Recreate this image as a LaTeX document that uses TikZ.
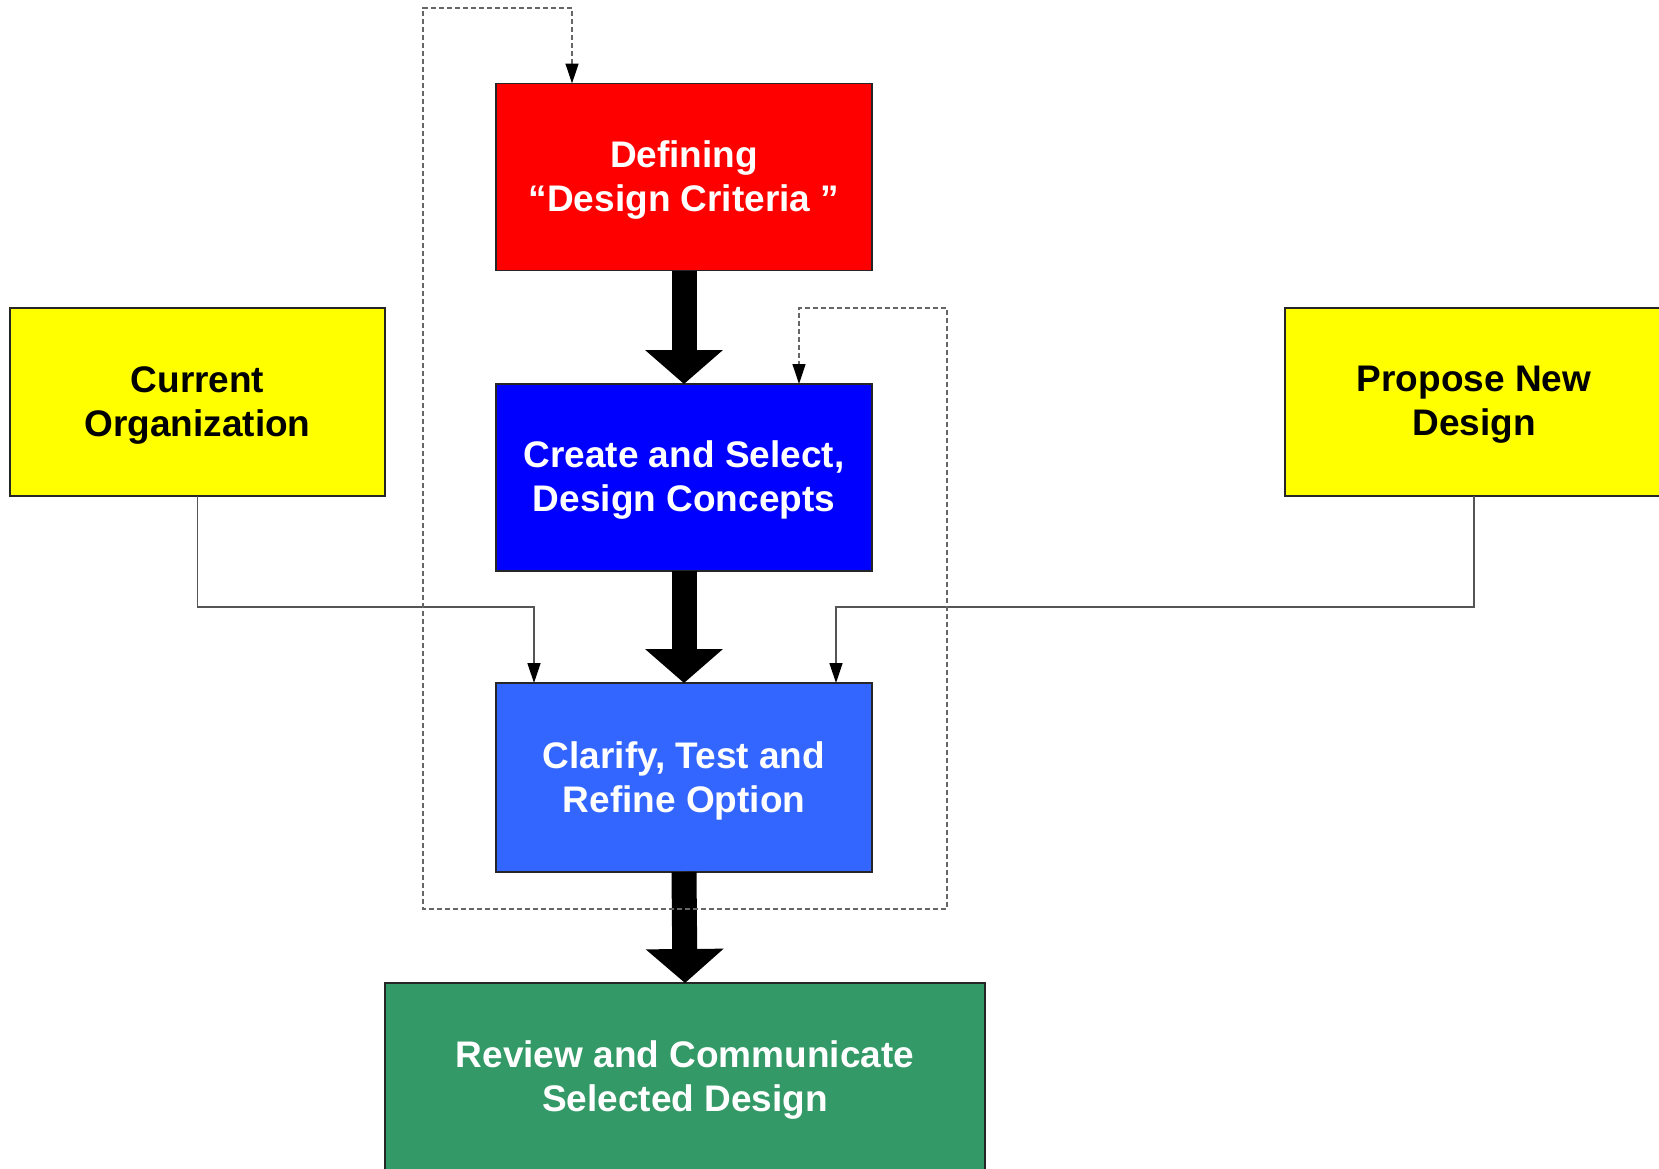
\documentclass[tikz,border=0pt]{standalone}
\usepackage{fontspec}
\setmainfont{Liberation Sans}
\usetikzlibrary{arrows.meta}
\definecolor{cred}{HTML}{FF0000}
\definecolor{cblue}{HTML}{0000FF}
\definecolor{clight}{HTML}{3366FF}
\definecolor{cgreen}{HTML}{339966}
\definecolor{cyell}{HTML}{FFFF00}
\definecolor{cline}{HTML}{555555}
\definecolor{cdash}{HTML}{666666}
\tikzset{
  box/.style={draw=black!85, line width=1.2pt, rectangle, inner sep=0pt, outer sep=0pt,
    minimum width=376pt, minimum height=187pt},
  boxtext/.style={align=center, yshift=-3pt, inner sep=0pt,
    font=\fontsize{37pt}{44pt}\selectfont\bfseries},
  bigarrow/.style={line width=25pt, draw=black, -{Triangle[width=76pt,length=34pt]}},
  conn/.style={draw=cline, line width=1.5pt, -{Triangle[width=13pt,length=20pt,color=black]}},
  fb/.style={draw=cdash, line width=1.3pt, dash pattern=on 5pt off 3pt,
    {Triangle[width=13pt,length=20pt,color=black]}-{Triangle[width=13pt,length=20pt,color=black]}}
}
\begin{document}
\begin{tikzpicture}[x=1pt,y=-1pt]
\useasboundingbox (0,0) rectangle (1659,1168);
\node[box, fill=cred, label={[boxtext, text=white]center:Defining\\“Design Criteria ”}] (red) at (684,177) {};
\node[box, fill=cblue, label={[boxtext, text=white]center:Create and Select,\\Design Concepts}] (create) at (684,477.5) {};
\node[box, fill=clight, minimum height=189pt, label={[boxtext, text=white]center:Clarify, Test and\\Refine Option}] (clar) at (684,777.5) {};
\node[box, fill=cgreen, minimum width=600pt, minimum height=188pt, label={[boxtext, text=white]center:Review and Communicate\\Selected Design}] (green) at (685,1077) {};
\node[box, fill=cyell, minimum width=375pt, minimum height=188pt, label={[boxtext]center:Current\\Organization}] (cur) at (197.5,402) {};
\node[box, fill=cyell, minimum width=378pt, minimum height=188pt, label={[boxtext]center:Propose New\\Design}] (prop) at (1474,402) {};
% thick flow arrows
\draw[bigarrow] (red.south) -- (create.north);
\draw[bigarrow] (create.south) -- (clar.north);
\draw[bigarrow] (clar.south) -- (green.north);
% thin connectors
\coordinate (a1) at ([xshift=38pt]clar.north west);
\coordinate (a2) at ([xshift=-36pt]clar.north east);
\draw[conn] (cur.south) |- ([yshift=76pt]a1) -- (a1);
\draw[conn] (prop.south) |- ([yshift=76pt]a2) -- (a2);
% dashed feedback loop
\coordinate (f0) at ([xshift=76pt]red.north west);
\coordinate (f1) at (572,8);
\coordinate (f2) at (423,8);
\coordinate (f3) at (423,909);
\coordinate (f4) at (947,909);
\coordinate (f5) at (947,308);
\coordinate (f6) at (799,308);
\coordinate (f7) at (create.north -| f6);
\draw[fb] (f0) -- (f1) -- (f2) -- (f3) -- (f4) -- (f5) -- (f6) -- (f7);
\end{tikzpicture}
\end{document}
